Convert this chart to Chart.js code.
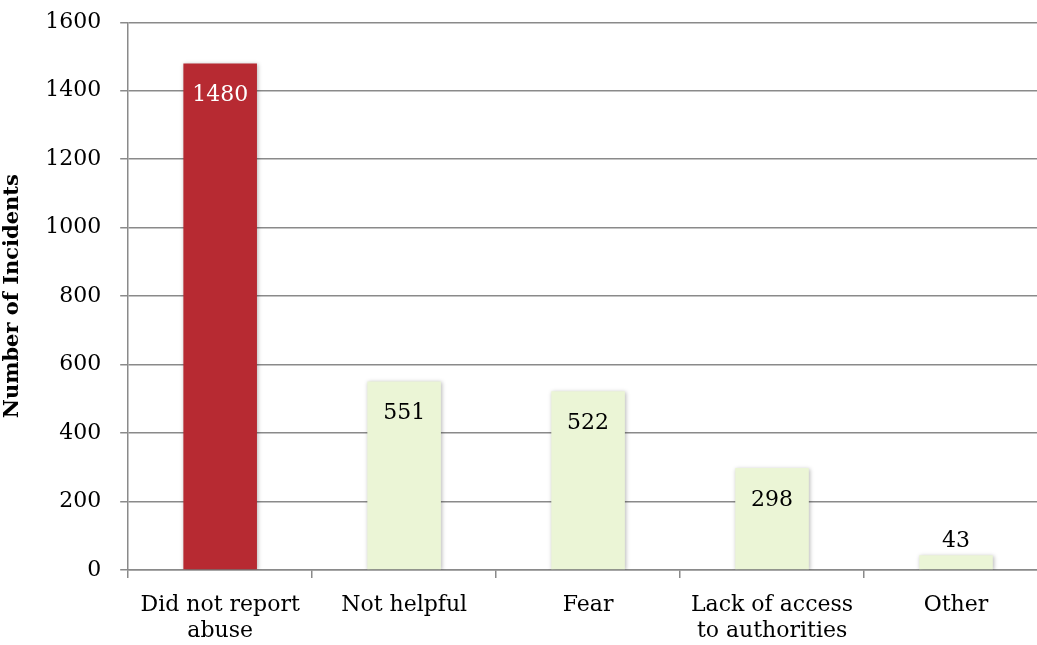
<!DOCTYPE html>
<html>
<head>
<meta charset="utf-8">
<script src="https://cdn.jsdelivr.net/npm/chart.js@4.4.1/dist/chart.umd.min.js"></script>
<style>
  html, body { margin: 0; padding: 0; background: #fff; overflow: hidden; }
  #wrap { width: 1050px; height: 658px; }
</style>
</head>
<body>
<div id="wrap"><canvas id="reasonsChart"></canvas></div>
<script>
// data
const categories = [['Did not report', 'abuse'], 'Not helpful', 'Fear', ['Lack of access', 'to authorities'], 'Other'];
const incidents = [1480, 551, 522, 298, 43];
const barColors = ['#B72A32', '#EBF5D6', '#EBF5D6', '#EBF5D6', '#EBF5D6'];
const labelColors = ['#ffffff', '#000000', '#000000', '#000000', '#000000'];

const serif = '"DejaVu Serif", "Liberation Serif", serif';

// soft shadow round the bars, like the office chart
const barShadow = {
    id: 'barShadow',
    beforeDatasetDraw(chart) {
        const ctx = chart.ctx;
        ctx.save();
        ctx.shadowColor = 'rgba(0,0,0,0.28)';
        ctx.shadowBlur = 4;
        ctx.shadowOffsetX = 1;
        ctx.shadowOffsetY = 1;
    },
    afterDatasetDraw(chart) {
        chart.ctx.restore();
    }
};

// value labels at the inside end of each bar (above it when the bar is too short)
const valueLabels = {
    id: 'valueLabels',
    afterDatasetsDraw(chart) {
        const ctx = chart.ctx;
        const meta = chart.getDatasetMeta(0);
        ctx.save();
        ctx.font = '22px ' + serif;
        ctx.textAlign = 'center';
        ctx.textBaseline = 'middle';
        meta.data.forEach(function (bar, i) {
            const h = bar.base - bar.y;
            let y = bar.y + 32;
            if (h < 45) {
                y = bar.y - 14;
            }
            ctx.fillStyle = labelColors[i];
            ctx.fillText(String(incidents[i]), bar.x, y);
        });
        ctx.restore();
    }
};

new Chart(document.getElementById('reasonsChart'), {
    type: 'bar',
    data: {
        labels: categories,
        datasets: [{
            data: incidents,
            backgroundColor: barColors,
            borderWidth: 0,
            categoryPercentage: 1,
            barPercentage: 0.4
        }]
    },
    options: {
        responsive: true,
        maintainAspectRatio: false,
        animation: false,
        layout: {
            padding: { top: 0, right: 2, bottom: 0, left: 0 }
        },
        plugins: {
            legend: { display: false },
            tooltip: { enabled: false }
        },
        scales: {
            x: {
                grid: {
                    drawOnChartArea: false,
                    drawTicks: true,
                    tickLength: 8,
                    color: '#8a8a8a',
                    lineWidth: 1.5
                },
                border: { color: '#8a8a8a', width: 1.5 },
                ticks: {
                    color: '#000',
                    padding: 14,
                    maxRotation: 0,
                    font: { family: serif, size: 22, lineHeight: 1.18 }
                }
            },
            y: {
                min: 0,
                max: 1600,
                ticks: {
                    stepSize: 200,
                    color: '#000',
                    padding: 19,
                    font: { family: serif, size: 22, lineHeight: 0.3 },
                    callback: function (v) { return String(v); }
                },
                grid: {
                    color: '#8a8a8a',
                    lineWidth: 1.5,
                    tickLength: 8
                },
                border: { color: '#8a8a8a', width: 1.5 },
                title: {
                    display: true,
                    text: 'Number of Incidents',
                    color: '#000',
                    padding: { top: 0, bottom: 1 },
                    font: { family: serif, size: 21, weight: 'bold' }
                }
            }
        }
    },
    plugins: [barShadow, valueLabels]
});
</script>
</body>
</html>
